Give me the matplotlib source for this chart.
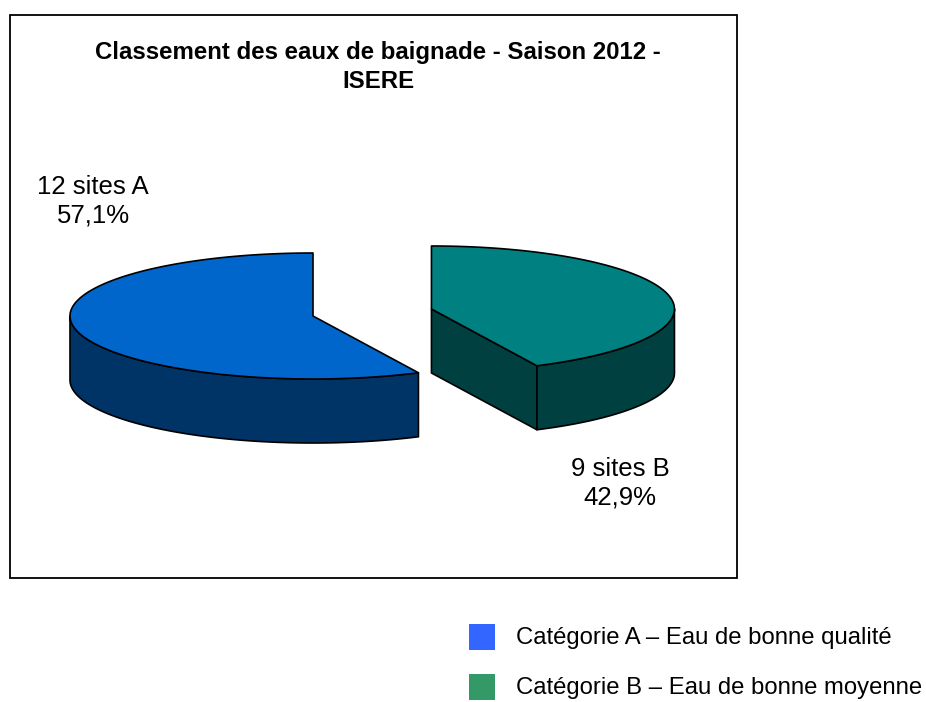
import matplotlib.pyplot as plt
import numpy as np
from matplotlib.patches import Polygon, Rectangle

plt.rcParams['font.family'] = ['Liberation Sans', 'DejaVu Sans']

# data
categories = ['A', 'B']
counts = [12, 9]
legend_labels = ['Catégorie A – Eau de bonne qualité',
                 'Catégorie B – Eau de bonne moyenne']
top_colors = ['#0066CC', '#008080']
side_colors = ['#003366', '#004040']
legend_colors = ['#3366FF', '#339966']
explode = [0, 0.5]

title = 'Classement des eaux de baignade - Saison 2012 -\nISERE'

fig = plt.figure(figsize=(9.26, 7.02), dpi=100)
ax = fig.add_axes([0, 0, 1, 1])
ax.set_xlim(0, 926)
ax.set_ylim(702, 0)
ax.axis('off')

# chart frame
ax.add_patch(Rectangle((10, 15), 727, 563, fill=False, ec='black', lw=1.3))
ax.text(378, 67, title, ha='center', va='center', fontsize=17.3,
        fontweight='bold', linespacing=1.33)

# 3d pie geometry (pixel layout)
cx, cy = 313, 316
rx, ry = 243, 63
depth = 64


def pt(x0, y0, t):
    r = np.radians(t)
    return x0 + rx * np.cos(r), y0 - ry * np.sin(r)


total = sum(counts)
start = 90.0
label_pos = [(93, 201), (620, 483)]
for i, n in enumerate(counts):
    sweep = 360.0 * n / total
    t0, t1 = start, start + sweep
    start = t1
    mid = np.radians((t0 + t1) / 2)
    ox = cx + explode[i] * rx * np.cos(mid)
    oy = cy - explode[i] * ry * np.sin(mid)

    # radial faces
    for a, nrm in [(t0, t0 - 90), (t1, t1 + 90)]:
        if np.sin(np.radians(nrm)) < -1e-6:
            ex, ey = pt(ox, oy, a)
            face = [(ox, oy), (ex, ey), (ex, ey + depth), (ox, oy + depth)]
            ax.add_patch(Polygon(face, closed=True, fc=side_colors[i],
                                 ec='black', lw=1.2, joinstyle='round'))

    # outer wall (front part only)
    for lo, hi in [(180, 360), (540, 720)]:
        a0, a1 = max(t0, lo), min(t1, hi)
        if a1 > a0:
            ts = np.linspace(a0, a1, 120)
            xs, ys = pt(ox, oy, ts)
            wall = list(zip(xs, ys)) + list(zip(xs[::-1], ys[::-1] + depth))
            ax.add_patch(Polygon(wall, closed=True, fc=side_colors[i],
                                 ec='black', lw=1.2, joinstyle='round'))

    # top face
    ts = np.linspace(t0, t1, 240)
    xs, ys = pt(ox, oy, ts)
    top = [(ox, oy)] + list(zip(xs, ys))
    ax.add_patch(Polygon(top, closed=True, fc=top_colors[i],
                         ec='black', lw=1.2, joinstyle='round'))

    pct = f'{100.0 * n / total:.1f}%'.replace('.', ',')
    ax.text(label_pos[i][0], label_pos[i][1],
            f'{n} sites {categories[i]}\n{pct}',
            ha='center', va='center', fontsize=18.5, linespacing=1.25)

# legend
for i, lab in enumerate(legend_labels):
    y = 637 + 50 * i
    ax.add_patch(Rectangle((469, y - 13), 26, 26, fc=legend_colors[i], ec='none'))
    ax.text(516, y + 1, lab, ha='left', va='center', fontsize=17.2)

fig.savefig('out.png', dpi=100)
